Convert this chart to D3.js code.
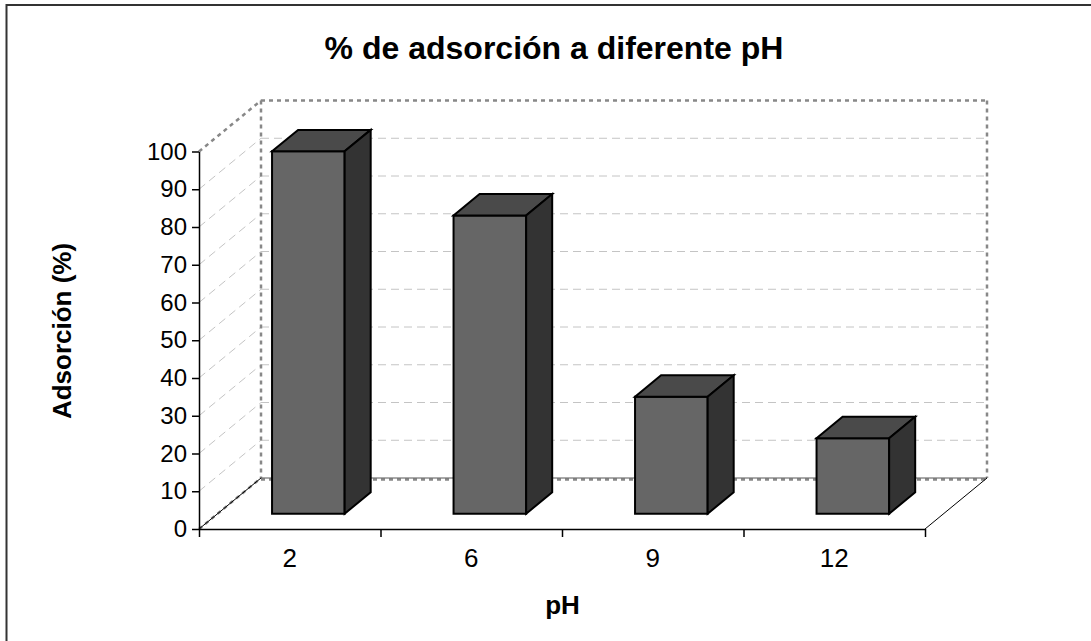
<!DOCTYPE html>
<html>
<head>
<meta charset="utf-8">
<script src="https://cdn.jsdelivr.net/npm/d3@7"></script>
<style>
  html, body { margin: 0; padding: 0; background: #fff; }
  svg { display: block; }
  text { font-family: "Liberation Sans", Arial, sans-serif; fill: #000; }
</style>
</head>
<body>
<svg id="chart" width="1091" height="641"></svg>
<script>
// ---- data ----
const categories = ["2", "6", "9", "12"];
const values = [96, 79, 31, 20];
const yTicks = [0, 10, 20, 30, 40, 50, 60, 70, 80, 90, 100];
const titleText = "% de adsorción a diferente pH";
const xTitleText = "pH";
const yTitleText = "Adsorción (%)";

// ---- layout ----
const W = 1091, H = 641;
const plotLeft = 199, plotRight = 925, plotBottom = 529, plotTop = 151.5;
const DX = 62, DY = -51;          // depth offset of the back wall
const D0 = 0.3, D1 = 0.72;        // depth range occupied by bars

const svg = d3.select("#chart");

const x = d3.scaleBand().domain(categories).range([plotLeft, plotRight])
  .paddingInner(0.6).paddingOuter(0.3);
const xEdge = d3.scaleLinear().domain([0, categories.length]).range([plotLeft, plotRight]);
const y = d3.scaleLinear().domain([0, 100]).range([plotBottom, plotTop]);

const P = (px, v, d) => [px + d * DX, y(v) + d * DY];

// outer frame
svg.append("rect").attr("x", 6.5).attr("y", 5).attr("width", W + 20).attr("height", H + 20)
  .attr("fill", "none").attr("stroke", "#333").attr("stroke-width", 2);

const gridStyle = sel => sel.attr("stroke", "#c4c4c4").attr("stroke-width", 1)
  .attr("stroke-dasharray", "8,5").attr("fill", "none");
const borderStyle = sel => sel.attr("stroke", "#888").attr("stroke-width", 2.5)
  .attr("stroke-dasharray", "4,4").attr("fill", "none");

const inner = yTicks.filter(v => v > 0 && v < 100);
// back wall gridlines
svg.append("g").selectAll("line").data(inner).join("line")
  .attr("x1", v => P(plotLeft, v, 1)[0]).attr("y1", v => P(plotLeft, v, 1)[1])
  .attr("x2", v => P(plotRight, v, 1)[0]).attr("y2", v => P(plotRight, v, 1)[1])
  .call(gridStyle);
// side wall gridlines
svg.append("g").selectAll("line").data(inner).join("line")
  .attr("x1", v => P(plotLeft, v, 0)[0]).attr("y1", v => P(plotLeft, v, 0)[1])
  .attr("x2", v => P(plotLeft, v, 1)[0]).attr("y2", v => P(plotLeft, v, 1)[1])
  .call(gridStyle);

// wall borders (dotted)
const line = d3.line();
const borders = [
  [P(plotLeft, 100, 0), P(plotLeft, 100, 1)],
  [P(plotLeft, 100, 1), P(plotRight, 100, 1)],
  [P(plotLeft, 100, 1), P(plotLeft, 0, 1)],
  [P(plotRight, 100, 1), P(plotRight, 0, 1)],
  [P(plotLeft, 0, 0), P(plotLeft, 0, 1)]
];
svg.append("g").selectAll("path").data(borders).join("path")
  .attr("d", d => line(d)).call(borderStyle);

// floor back edge
const fb0 = P(plotLeft, 0, 1), fb1 = P(plotRight, 0, 1);
svg.append("line").attr("x1", fb0[0]).attr("y1", fb0[1] + 1.5).attr("x2", fb1[0]).attr("y2", fb1[1] + 1.5)
  .call(borderStyle);
svg.append("line").attr("x1", fb0[0]).attr("y1", fb0[1]).attr("x2", fb1[0]).attr("y2", fb1[1])
  .attr("stroke", "#555").attr("stroke-width", 1);
// floor side edges
[[P(plotLeft, 0, 0), P(plotLeft, 0, 1)], [P(plotRight, 0, 0), P(plotRight, 0, 1)]].forEach(seg => {
  svg.append("path").attr("d", line(seg)).attr("stroke", "#000").attr("stroke-width", 1).attr("fill", "none");
});

// bars
const bars = svg.append("g");
categories.forEach((c, i) => {
  const x0 = x(c), x1 = x(c) + x.bandwidth(), v = values[i];
  const g = bars.append("g").attr("stroke", "#000").attr("stroke-width", 2).attr("stroke-linejoin", "miter");
  g.append("path").attr("fill", "#666666")
    .attr("d", line([P(x0, 0, D0), P(x1, 0, D0), P(x1, v, D0), P(x0, v, D0)]) + "Z");
  g.append("path").attr("fill", "#4a4a4a")
    .attr("d", line([P(x0, v, D0), P(x1, v, D0), P(x1, v, D1), P(x0, v, D1)]) + "Z");
  g.append("path").attr("fill", "#333333")
    .attr("d", line([P(x1, 0, D0), P(x1, 0, D1), P(x1, v, D1), P(x1, v, D0)]) + "Z");
});

// y axis
const yAxis = svg.append("g").attr("transform", `translate(${plotLeft},0)`)
  .call(d3.axisLeft(y).tickValues(yTicks).tickSize(7).tickSizeOuter(0).tickPadding(5));
yAxis.selectAll("path, line").attr("stroke", "#000").attr("stroke-width", 1.5);
yAxis.selectAll("text").style("font-size", "24px").attr("font-family", null);

// x axis (edges)
const xAxisEdges = svg.append("g").attr("transform", `translate(0,${plotBottom})`)
  .call(d3.axisBottom(xEdge).tickValues(d3.range(categories.length + 1)).tickFormat("").tickSize(8).tickSizeOuter(0));
xAxisEdges.selectAll("path, line").attr("stroke", "#000").attr("stroke-width", 1.5);
// x labels
const xAxisLabels = svg.append("g").attr("transform", `translate(0,${plotBottom})`)
  .call(d3.axisBottom(x).tickSize(0).tickPadding(0));
xAxisLabels.select(".domain").remove();
xAxisLabels.selectAll("text").style("font-size", "26px").attr("font-family", null)
  .attr("y", 38).attr("dy", null);

// titles
svg.append("text").attr("x", 554).attr("y", 59).attr("text-anchor", "middle")
  .style("font-size", "32px").style("font-weight", "bold").text(titleText);
svg.append("text").attr("x", 562.5).attr("y", 614).attr("text-anchor", "middle")
  .style("font-size", "26px").style("font-weight", "bold").text(xTitleText);
svg.append("text").attr("transform", "translate(71,331) rotate(-90)").attr("text-anchor", "middle")
  .style("font-size", "26px").style("font-weight", "bold").text(yTitleText);
</script>
</body>
</html>
